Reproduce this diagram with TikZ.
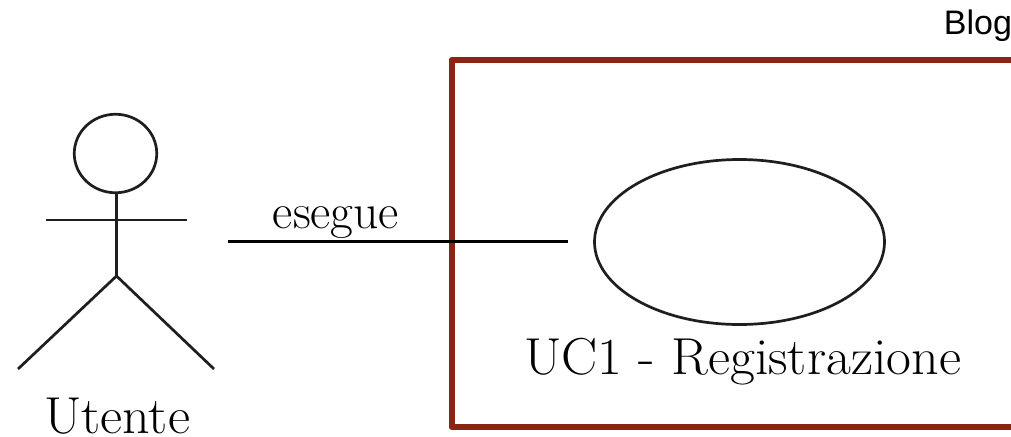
\documentclass[tikz,border=0pt]{standalone}
\usepackage{fontspec}
\usetikzlibrary{shapes.geometric}
\newfontfamily\blogfont{Liberation Sans}
\definecolor{frame}{RGB}{138,36,20}
\definecolor{inkc}{RGB}{30,30,30}
\tikzset{
 ink/.style={draw=inkc,line width=2.7pt},
 lab/.style={inner sep=0pt,text=black,anchor=base},
 bigtext/.style={lab,xscale=1.04,font=\fontsize{52}{60}\selectfont},
}
\begin{document}
\begin{tikzpicture}[x=1pt,y=-1pt]
\useasboundingbox[fill=white] (0,0) rectangle (1011,436);
\coordinate (tr) at (1011,60);
\coordinate (tl) at (451.5,60);
\coordinate (bl) at (451.5,427);
\coordinate (br) at (1011,427);
\draw[frame,line width=6pt,line join=round] (tr) -- (tl) -- (bl) -- (br);
\node[lab,font=\blogfont\fontsize{34}{40}\selectfont] (blog) at (978,35) {Blog};
\node[ink,ellipse,minimum width=82.5pt,minimum height=78.5pt,inner sep=0pt] (head) at (115.5,153.5) {};
\coordinate (hip) at (116.5,276);
\coordinate (neck) at (116.5,194);
\coordinate (armL) at (46,220);
\coordinate (armR) at (187,220);
\coordinate (footL) at (18,369);
\coordinate (footR) at (214,369);
\draw[ink,line width=2.3pt] (neck) -- (hip);
\draw[ink,line width=2pt] (armL) -- (armR);
\draw[ink] (footL) -- (hip) -- (footR);
\node[bigtext] (utente) at (117,433) {Utente};
\node[ink,ellipse,minimum width=290pt,minimum height=165pt,inner sep=0pt] (uc) at (739.5,242) {};
\node[bigtext] (uclab) at (742.5,374) {UC1 - Registrazione};
\coordinate (a) at (228,241);
\coordinate (b) at (568,241);
\draw[line width=3pt,black] (a) -- (b);
\node[lab,font=\fontsize{49.5}{56}\selectfont] (es) at (336,228) {esegue};
\end{tikzpicture}
\end{document}
